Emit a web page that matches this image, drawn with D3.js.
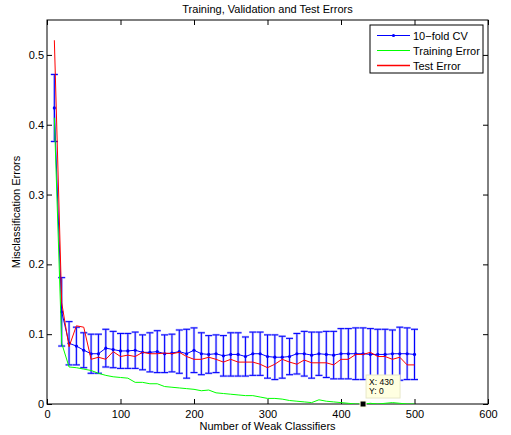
<!DOCTYPE html>
<html>
<head>
<meta charset="utf-8">
<script src="https://cdn.jsdelivr.net/npm/d3@7"></script>
<style>
  body { margin: 0; background: #fff; }
  svg text { font-family: "Liberation Sans", Arial, Helvetica, sans-serif; fill: #000; }
</style>
</head>
<body>
<svg id="chart" width="511" height="435"></svg>
<script>
// number of weak classifiers
const rounds = [10, 20, 30, 40, 50, 60, 70, 80, 90, 100,
    110, 120, 130, 140, 150, 160, 170, 180, 190, 200,
    210, 220, 230, 240, 250, 260, 270, 280, 290, 300,
    310, 320, 330, 340, 350, 360, 370, 380, 390, 400,
    410, 420, 430, 440, 450, 460, 470, 480, 490, 500];

// 10-fold cross validation: mean and spread
const cvMean = [0.424, 0.132, 0.087, 0.083, 0.077, 0.072, 0.072, 0.080, 0.078, 0.076,
    0.076, 0.077, 0.074, 0.074, 0.075, 0.072, 0.073, 0.075, 0.072, 0.077,
    0.072, 0.071, 0.072, 0.069, 0.071, 0.071, 0.068, 0.072, 0.072, 0.068,
    0.067, 0.067, 0.068, 0.072, 0.072, 0.070, 0.072, 0.071, 0.070, 0.072,
    0.072, 0.072, 0.072, 0.071, 0.071, 0.071, 0.072, 0.072, 0.072, 0.071];
const cvStd = [0.048, 0.049, 0.031, 0.027, 0.025, 0.028, 0.028, 0.027, 0.026, 0.025,
    0.025, 0.026, 0.025, 0.028, 0.030, 0.027, 0.027, 0.031, 0.035, 0.032,
    0.030, 0.027, 0.027, 0.029, 0.031, 0.031, 0.028, 0.031, 0.031, 0.031,
    0.032, 0.030, 0.026, 0.029, 0.032, 0.033, 0.031, 0.033, 0.034, 0.036,
    0.036, 0.037, 0.037, 0.037, 0.036, 0.036, 0.034, 0.038, 0.037, 0.036];

const trainErr = [0.410, 0.087, 0.053, 0.052, 0.050, 0.048, 0.044, 0.041, 0.039, 0.038,
    0.037, 0.031, 0.031, 0.029, 0.029, 0.025, 0.024, 0.023, 0.022, 0.021,
    0.019, 0.020, 0.016, 0.015, 0.014, 0.013, 0.012, 0.012, 0.010, 0.008,
    0.008, 0.007, 0.005, 0.004, 0.003, 0.002, 0.006, 0.004, 0.003, 0.002,
    0.001, 0.000, 0.000, 0.001, 0.000, 0.001, 0.002, 0.001, 0.000, 0.000];

const testErr = [0.521, 0.145, 0.082, 0.112, 0.110, 0.064, 0.067, 0.064, 0.075, 0.068,
    0.070, 0.068, 0.074, 0.072, 0.072, 0.073, 0.072, 0.074, 0.068, 0.064,
    0.064, 0.067, 0.064, 0.060, 0.064, 0.060, 0.060, 0.060, 0.057, 0.052,
    0.057, 0.064, 0.060, 0.057, 0.063, 0.059, 0.059, 0.059, 0.056, 0.064,
    0.064, 0.071, 0.071, 0.074, 0.068, 0.068, 0.064, 0.067, 0.056, 0.056];

const xTicks = [0, 100, 200, 300, 400, 500, 600];
const yTicks = [0, 0.1, 0.2, 0.3, 0.4, 0.5];
const legendLabels = ["10\u2212fold CV", "Training Error", "Test Error"];
const legendColors = ["#0000ff", "#00ff00", "#ff0000"];
const dataTip = { x: 430, y: 0 };

const svg = d3.select("#chart");
const margin = { left: 47, right: 23, top: 20, bottom: 31 };
const width = 511 - margin.left - margin.right;
const height = 435 - margin.top - margin.bottom;

const x = d3.scaleLinear().domain([0, 600]).range([0, width]);
const y = d3.scaleLinear().domain([0, 0.55]).range([height, 0]);

const g = svg.append("g")
    .attr("transform", `translate(${margin.left},${margin.top})`);

// Axes on all four sides, ticks pointing in
const tickLen = 5;
const fmtY = d => d === 0 ? "0" : d3.format(".1f")(d);

g.append("g")
    .attr("transform", `translate(0,${height})`)
    .call(d3.axisBottom(x).tickValues(xTicks).tickSizeInner(-tickLen).tickSizeOuter(0).tickPadding(6))
    .call(a => a.select(".domain").remove());
g.append("g")
    .call(d3.axisTop(x).tickValues(xTicks).tickSizeInner(-tickLen).tickSizeOuter(0).tickFormat(""))
    .call(a => a.select(".domain").remove());
g.append("g")
    .call(d3.axisLeft(y).tickValues(yTicks).tickSizeInner(-tickLen).tickSizeOuter(0).tickPadding(3).tickFormat(fmtY))
    .call(a => a.select(".domain").remove());
g.append("g")
    .attr("transform", `translate(${width},0)`)
    .call(d3.axisRight(y).tickValues(yTicks).tickSizeInner(-tickLen).tickSizeOuter(0).tickFormat(""))
    .call(a => a.select(".domain").remove());

g.selectAll(".tick text").style("font-size", "11px")
    .style("font-family", "'Liberation Sans', Arial, sans-serif");
g.selectAll(".tick line").attr("stroke", "#000");

g.append("rect")
    .attr("width", width).attr("height", height)
    .attr("fill", "none").attr("stroke", "#000").attr("stroke-width", 1);

// Clip the curves to the axes box
svg.append("defs").append("clipPath").attr("id", "plotClip")
    .append("rect").attr("width", width).attr("height", height);
const plot = g.append("g").attr("clip-path", "url(#plotClip)");

// Error bars for the CV estimate
const cap = 3.5;
const cv = rounds.map((r, i) => ({ r, m: cvMean[i], s: cvStd[i] }));
const barPath = d => {
    const cx = x(d.r), top = y(d.m + d.s), bot = y(d.m - d.s);
    return `M${cx},${top}V${bot}M${cx - cap},${top}H${cx + cap}M${cx - cap},${bot}H${cx + cap}`;
};
plot.selectAll("path.bar-halo").data(cv).join("path")
    .attr("class", "bar-halo")
    .attr("d", barPath)
    .attr("fill", "none").attr("stroke", "#8c8cff").attr("stroke-width", 2.4).attr("opacity", 0.55);
plot.selectAll("path.bar").data(cv).join("path")
    .attr("class", "bar")
    .attr("d", barPath)
    .attr("fill", "none").attr("stroke", "#0000ff").attr("stroke-width", 1);

const line = d3.line().x(d => x(d[0])).y(d => y(d[1]));

plot.append("path")
    .datum(cv.map(d => [d.r, d.m]))
    .attr("d", line)
    .attr("fill", "none").attr("stroke", "#0000ff").attr("stroke-width", 1);
plot.selectAll("circle.cv").data(cv).join("circle")
    .attr("class", "cv")
    .attr("cx", d => x(d.r)).attr("cy", d => y(d.m))
    .attr("r", 1.6).attr("fill", "#0000ff");

plot.append("path")
    .datum(rounds.map((r, i) => [r, trainErr[i]]))
    .attr("d", line)
    .attr("fill", "none").attr("stroke", "#00ff00").attr("stroke-width", 1);

plot.append("path")
    .datum(rounds.map((r, i) => [r, testErr[i]]))
    .attr("d", line)
    .attr("fill", "none").attr("stroke", "#ff0000").attr("stroke-width", 1);

// Data tip
const tipX = x(dataTip.x), tipY = y(dataTip.y);
g.append("rect")
    .attr("x", tipX + 3).attr("y", tipY - 29)
    .attr("width", 34).attr("height", 23)
    .attr("fill", "#ffffe1").attr("stroke", "#e8e8c8").attr("stroke-width", 1);
g.append("text").attr("x", tipX + 6).attr("y", tipY - 19)
    .style("font-size", "8.5px").text(`X: ${dataTip.x}`);
g.append("text").attr("x", tipX + 6).attr("y", tipY - 10)
    .style("font-size", "8.5px").text(`Y: ${dataTip.y}`);
g.append("rect")
    .attr("x", tipX - 3).attr("y", tipY - 3)
    .attr("width", 6).attr("height", 6)
    .attr("fill", "#000").attr("stroke", "#ffffe1").attr("stroke-width", 1);

// Legend
const legend = g.append("g").attr("transform", `translate(${370 - margin.left},${25 - margin.top})`);
legend.append("rect")
    .attr("width", 113).attr("height", 48)
    .attr("fill", "#fff").attr("stroke", "#000").attr("stroke-width", 1);
legend.selectAll("line.key").data(legendLabels).join("line")
    .attr("class", "key")
    .attr("x1", 7).attr("x2", 40)
    .attr("y1", (d, i) => 10.5 + i * 15).attr("y2", (d, i) => 10.5 + i * 15)
    .style("stroke", (d, i) => legendColors[i])
    .style("stroke-width", (d, i) => i === 2 ? 1.6 : 1);
legend.append("circle").attr("cx", 23.5).attr("cy", 10.5).attr("r", 1.6).attr("fill", "#0000ff");
legend.selectAll("text.key").data(legendLabels).join("text")
    .attr("class", "key")
    .attr("x", 43).attr("y", (d, i) => 14.5 + i * 15)
    .style("font-size", "11px")
    .text(d => d);

// Titles
svg.append("text")
    .attr("x", margin.left + width / 2).attr("y", 13)
    .attr("text-anchor", "middle").style("font-size", "11px")
    .text("Training, Validation and Test Errors");
svg.append("text")
    .attr("x", margin.left + width / 2).attr("y", 430)
    .attr("text-anchor", "middle").style("font-size", "11px")
    .text("Number of Weak Classifiers");
svg.append("text")
    .attr("transform", `translate(20,${margin.top + height / 2}) rotate(-90)`)
    .attr("text-anchor", "middle").style("font-size", "11px")
    .text("Misclassification Errors");
</script>
</body>
</html>
